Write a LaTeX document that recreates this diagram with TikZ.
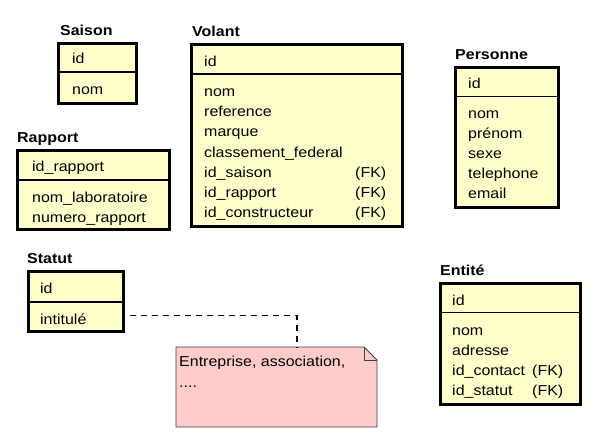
\documentclass[tikz,border=0pt]{standalone}
\usepackage{fontspec}
\setmainfont{Liberation Sans}[FakeStretch=1.11]
\definecolor{tblfill}{HTML}{FFFFCC}
\definecolor{notefill}{HTML}{FFCCCC}
\begin{document}
\begin{tikzpicture}[x=1pt,y=-1pt,
  tbl/.style={draw=black,line width=3pt,fill=tblfill,anchor=north west,inner sep=0pt,outer sep=0pt},
  sepline/.style={draw=black,line width=1.2pt},
  ttl/.style={anchor=base west,inner sep=0pt,font=\fontsize{14.4}{20}\selectfont\bfseries},
  attr/.style={anchor=base west,inner sep=0pt,font=\fontsize{14.4}{20}\selectfont},
  notebox/.style={draw=black!75,line width=0.8pt,fill=notefill},
  notelink/.style={draw=black,line width=1.1pt,dash pattern=on 6pt off 5pt}]
\useasboundingbox (0,0) rectangle (600,440);
\fill[white] (0,0) rectangle (600,440);

% Saison
\node[tbl,minimum width=78pt,minimum height=60pt] (saison) at (58.5,43) {};
\draw[sepline] (saison.west |- 0,72) -- (saison.east |- 0,72);
\node[ttl] (saisonT) at (60,35) {Saison};
\node[attr] (s1) at (72,63) {id};
\node[attr] (s2) at (72,94) {nom};

% Volant
\node[tbl,minimum width=211pt,minimum height=182pt] (volant) at (191,44) {};
\draw[sepline] (volant.west |- 0,74) -- (volant.east |- 0,74);
\node[ttl] (volantT) at (192,36) {Volant};
\node[attr] (v0) at (204,66) {id};
\node[attr] (v1) at (204,96.5) {nom};
\node[attr] (v2) at (204,116.7) {reference};
\node[attr] (v3) at (204,136.9) {marque};
\node[attr] (v4) at (204,157.1) {classement\_federal};
\node[attr] (v5) at (204,177.3) {id\_saison};
\node[attr] (v6) at (204,197.5) {id\_rapport};
\node[attr] (v7) at (204,217.7) {id\_constructeur};
\node[attr] (v5k) at (355,177.3) {(FK)};
\node[attr] (v6k) at (355,197.5) {(FK)};
\node[attr] (v7k) at (355,217.7) {(FK)};

% Personne
\node[tbl,minimum width=103pt,minimum height=140pt] (pers) at (455,67.5) {};
\draw[sepline] (pers.west |- 0,96.5) -- (pers.east |- 0,96.5);
\node[ttl] (persT) at (455,59) {Personne};
\node[attr] (p0) at (468,88) {id};
\node[attr] (p1) at (468,118.5) {nom};
\node[attr] (p2) at (468,138.5) {prénom};
\node[attr] (p3) at (468,158.5) {sexe};
\node[attr] (p4) at (468,178.5) {telephone};
\node[attr] (p5) at (468,198.5) {email};

% Rapport
\node[tbl,minimum width=151.5pt,minimum height=79pt] (rapp) at (17.5,150) {};
\draw[sepline] (rapp.west |- 0,180) -- (rapp.east |- 0,180);
\node[ttl] (rappT) at (17,142) {Rapport};
\node[attr] (r0) at (32,171) {id\_rapport};
\node[attr] (r1) at (32,202) {nom\_laboratoire};
\node[attr] (r2) at (32,222) {numero\_rapport};

% Statut
\node[tbl,minimum width=95pt,minimum height=60.5pt] (statut) at (28,271) {};
\draw[sepline] (statut.west |- 0,302) -- (statut.east |- 0,302);
\node[ttl] (statutT) at (27,263) {Statut};
\node[attr] (st0) at (40,293) {id};
\node[attr] (st1) at (40,324) {intitulé};

% Entite
\node[tbl,minimum width=140pt,minimum height=121pt] (entite) at (440,283.5) {};
\draw[sepline] (entite.west |- 0,312.5) -- (entite.east |- 0,312.5);
\node[ttl] (entiteT) at (440,275) {Entité};
\node[attr] (e0) at (452,305) {id};
\node[attr] (e1) at (452,335) {nom};
\node[attr] (e2) at (452,355) {adresse};
\node[attr] (e3) at (452,375) {id\_contact};
\node[attr] (e4) at (452,395) {id\_statut};
\node[attr] (e3k) at (532,375) {(FK)};
\node[attr] (e4k) at (532,395) {(FK)};

% Note
\node[anchor=north west,minimum width=201pt,minimum height=80pt,inner sep=0pt,outer sep=0pt] (note) at (176,347) {};
\draw[notebox] (note.north west) -- ([xshift=-13pt]note.north east) -- ([yshift=-13pt]note.north east) -- (note.south east) -- (note.south west) -- cycle;
\draw[draw=black!75,line width=0.8pt] ([xshift=-13pt]note.north east) -- ([xshift=-13pt,yshift=-13pt]note.north east) -- ([yshift=-13pt]note.north east);
\node[attr] (n1) at (179,366.5) {Entreprise, association,};
\node[attr] (n2) at (179,387) {....};

% Note link
\coordinate (lk) at (130,315.5);
\draw[notelink] (lk) -| (note.north -| 297,0);
\end{tikzpicture}
\end{document}
